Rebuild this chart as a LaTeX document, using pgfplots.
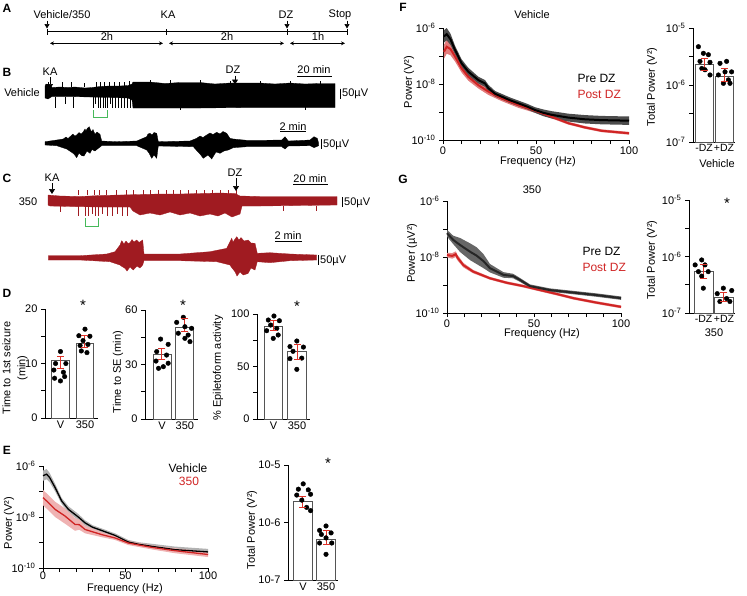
\documentclass[border=0pt]{standalone}
\usepackage{fontspec}
\setmainfont{Liberation Sans}
\usepackage{pgfplots}
\usepackage{pgfplotstable}
\pgfplotsset{compat=1.18}
\usetikzlibrary{arrows.meta}
\definecolor{eegred}{RGB}{160,27,33}
\definecolor{psdred}{RGB}{208,36,36}
\definecolor{errred}{RGB}{222,50,40}
\definecolor{bargray}{RGB}{85,85,85}
\definecolor{grn}{RGB}{70,185,90}
\newcommand\fs{\fontsize{11}{13}\selectfont}
\newcommand\fl{\fontsize{12}{14}\selectfont}
\pgfplotsset{
  gp/.style={scale only axis, axis lines*=left, clip=false, anchor=south west,
    axis line style={line width=0.9pt},
    tick style={black, line width=0.9pt},
    tick align=outside, major tick length=4pt, minor tick length=4pt,
    tick label style={font=\fs},
    /pgf/number format/assume math mode=true},
  barax/.style={gp, xtick={1,2}, xtick style={draw=none}, xticklabel style={yshift=5pt}},
  psd/.style={gp, xmin=0, xmax=100, ymin=-10, ymax=-6, xtick={0,50,100},
    minor xtick={10,20,30,40,60,70,80,90}, ytick={-10,-9,-8,-7,-6},
    xticklabel style={yshift=1pt},
    yticklabels={10\textsuperscript{-10},,10\textsuperscript{-8},,10\textsuperscript{-6}}},
  bars/.style={ybar, fill=white, draw=bargray, line width=0.9pt},
  dots/.style={only marks, mark=*, mark size=2.3pt, black},
  err/.style={errred, line width=1pt, mark=-, mark size=3.5pt, mark options={line width=1pt}},
}
% PSD mean curves: frequency (Hz), log10 power
\pgfplotstableread{
f m
0.5 -6.30
2 -6.22
4 -6.40
6.5 -6.79
10 -7.26
13.6 -7.56
19 -7.86
22.6 -7.98
24.4 -8.15
28 -8.35
31.5 -8.45
36 -8.58
40.5 -8.69
45 -8.80
49.5 -8.93
54 -9.03
58.4 -9.10
67.4 -9.20
76.3 -9.26
85.3 -9.29
100 -9.31
}\FPre
\pgfplotstableread{
f m
0.5 -6.85
2 -6.67
4 -6.75
6.5 -7.02
10 -7.44
13.6 -7.74
19 -8.04
24.4 -8.27
31.5 -8.51
40.5 -8.75
49.5 -8.95
58.4 -9.17
67.4 -9.40
76.3 -9.55
85.3 -9.67
100 -9.76
}\FPost
\pgfplotstableread{
f m
0 -7.15
3.6 -7.39
7.5 -7.57
13.2 -7.81
17 -7.95
21 -8.15
24.7 -8.40
32.4 -8.64
38 -8.68
42 -8.82
47.7 -9.04
59 -9.18
72.6 -9.27
86 -9.36
100 -9.47
}\GPre
\pgfplotstableread{
f m
0 -7.93
3 -7.96
5 -7.90
6 -8.02
9.4 -8.29
15 -8.52
24.7 -8.76
34.3 -8.92
43.9 -9.04
53.4 -9.18
63 -9.32
72.6 -9.47
86 -9.63
100 -9.78
}\GPost
\pgfplotstableread{
f m
0 -6.38
2.2 -6.32
4 -6.45
7.3 -6.84
11.3 -7.37
15.4 -7.70
21.4 -8.00
25.5 -8.23
30 -8.40
35.6 -8.53
43.6 -8.72
51.7 -8.98
58 -9.07
65.9 -9.15
80 -9.28
100 -9.37
}\EVeh
\pgfplotstableread{
f m
0 -7.24
3.2 -7.43
7.3 -7.70
13.3 -7.96
19.4 -8.29
22 -8.30
25.5 -8.49
35.6 -8.69
43.6 -8.82
51.7 -9.02
65.9 -9.19
80 -9.32
100 -9.47
}\ETre
\begin{document}
\begin{tikzpicture}[x=1pt, y=1pt, font=\fs]
\path[use as bounding box] (0pt,0pt) rectangle (747pt,-595pt);
% ---------------- EEG traces (canvas axis in pixel units) ----------------
\begin{axis}[at={(0pt,0pt)}, anchor=north west, scale only axis, width=747pt, height=595pt,
  xmin=0, xmax=747, ymin=0, ymax=595, y dir=reverse, hide axis, clip=false]
\addplot[fill=black, draw=black, line width=0.3pt] coordinates {
(45,86)(46,84)(50,85)(52,87.5)(60,87)(68,87.5)(75,87)(85,88)(92,87.5)(100,86.5)(110,86)(120,86)(128,85.5)(132,84)(133,82)(150,82)(165,83.5)(180,82.5)(200,82.5)(215,84)(230,83)(260,83)(275,84)(290,83)(305,84)(320,83.5)(335,83.5)
(335,107.5)(300,107.5)(250,107.5)(200,108)(150,108)(133,108)(132,100)(128,98)(110,97.5)(90,97)(70,96.5)(52,96.5)(48,99)(45,98)(45,86)};
\addplot[draw=none, mark=none, error bars/.cd, y dir=both, y explicit, error mark=none,
  error bar style={draw=black, line width=0.7pt}] coordinates {
(55,102.5)+-(0,5.5) (65,100.5)+-(0,3.5) (73,102.5)+-(0,5.5) (93,102.5)+-(0,5.5) (95.5,100.5)+-(0,3.5)
(98,102.5)+-(0,5.5) (100.5,102.5)+-(0,5.5) (103,102.5)+-(0,5.5) (105,102.5)+-(0,5.5) (107.5,102.5)+-(0,5.5)
(110,100.5)+-(0,3.5) (112.5,102.5)+-(0,5.5) (115,102.5)+-(0,5.5) (118,102.5)+-(0,5.5) (121,102.5)+-(0,5.5)
(124,102.5)+-(0,5.5) (127,102.5)+-(0,5.5) (130,102.5)+-(0,5.5) (180,108)+-(0,2) (305,108)+-(0,2)
(48,84.5)+-(0,2.5) (62,84.5)+-(0,2.5) (71,84.5)+-(0,2.5) (84,85)+-(0,2) (96,84.5)+-(0,2.5) (100,84)+-(0,2.5)
(104,84.5)+-(0,2.5) (109,84)+-(0,2.5) (114,84)+-(0,2.5) (119,84)+-(0,2.5) (124,84)+-(0,2.5) (129,83.5)+-(0,2.5)
(150,81.5)+-(0,1.5) (170,81.5)+-(0,1.5) (200,81.5)+-(0,1.5) (230,82)+-(0,1.5) (260,82)+-(0,1.5) (290,82)+-(0,1.5) (320,82)+-(0,1.5)};
\addplot[fill=black, draw=black, line width=0.3pt] coordinates {
(45,141.7)(56.7,140)(63.3,139)(66,137)(68,138.5)(70,136.7)(73,134)(75,136)(76.7,135)(79,132.5)(81,134)(83.3,131.7)(85,129)(86,131)(87.3,128.3)(89.3,126.7)(90.5,130)(91.7,131.7)(93,129.5)(95,134.3)(97,132)(100,134.3)(101.7,141)(116.7,141.7)(136.7,141)(146.7,136.7)(148,134)(150,133.3)(152,135)(154,132.5)(156.7,133.3)(158.3,141.7)(190,141)(196.7,138.3)(200,136)(203,137.5)(206.7,135)(210,133)(213,134.5)(216.7,132.3)(220,134)(223,131.5)(226.7,133.3)(230,138.3)(233.3,139)(246.7,140.3)(263.3,140.3)(281.7,140)(285,136.7)(288.3,141)(310,140)(314,136.7)(317.3,138.3)(318.7,143.3)
(318.7,145.7)(314,147.7)(310,145.7)(288.3,146)(285,149)(281.7,146.7)(246.7,146.7)(233.3,147.7)(228.3,150)(224,151)(220,153.3)(216,152)(211.7,159)(208,155)(203.3,158.3)(200,154)(198.3,152.3)(193.3,146.7)(158.3,146)(156.7,158.3)(154,155)(151.7,158.3)(149,153)(146.7,150)(136.7,145.7)(101.7,145.7)(98.3,148.3)(95,151)(92,149.5)(90,153.3)(87,151)(84,156)(81.7,155.7)(79,153)(76.7,157.7)(74,154)(71.7,152.3)(69,150.5)(66.7,149)(56.7,145.7)(45,145)(45,141.7)};
\addplot[fill=eegred, draw=eegred, line width=0.3pt] coordinates {
(48,195)(60,196)(80,196.5)(100,195.5)(120,195)(140,194.5)(160,194)(180,194)(200,193.5)(220,193)(235,193.5)(240,196)(260,196.5)(300,196.5)(337,196.5)
(337,205)(300,205.5)(260,206)(242,206)(240,214)(232,217)(225,213)(218,216)(210,214)(200,216)(190,213)(180,215)(170,212)(160,215)(150,213)(140,215)(133,211)(130,207)(100,207)(70,206.5)(50,206)(48,205)(48,195)};
\addplot[draw=none, mark=none, error bars/.cd, y dir=both, y explicit, error mark=none,
  error bar style={draw=eegred, line width=0.7pt}] coordinates {
(60,209)+-(0,3) (78,211)+-(0,5) (85,211)+-(0,5) (88,211)+-(0,5) (92,210)+-(0,4) (95,211)+-(0,5) (98,211)+-(0,5)
(102,210)+-(0,4) (107,211)+-(0,5) (112,211)+-(0,5) (117,210)+-(0,4) (122,211)+-(0,5) (127,211)+-(0,5)
(283,208.5)+-(0,2.5) (316,208.5)+-(0,2.5)
(78,192.5)+-(0,2.5) (87,192.5)+-(0,2.5) (94,192.5)+-(0,2.5) (99,192.5)+-(0,2.5) (106,192.5)+-(0,2.5)
(116,192.5)+-(0,2.5) (126,192.5)+-(0,2.5) (133,192.5)+-(0,2.5) (143,192.5)+-(0,2.5) (150,192.5)+-(0,2.5)
(158,192.5)+-(0,2.5) (166,192.5)+-(0,2.5) (173,192.5)+-(0,2.5) (180,192.5)+-(0,2.5) (188,192.5)+-(0,2.5)
(196,192.5)+-(0,2.5) (204,192.5)+-(0,2.5) (212,192.5)+-(0,2.5) (220,192.5)+-(0,2.5) (228,192.5)+-(0,2.5) (236,192.5)+-(0,2.5)};
\addplot[fill=eegred, draw=eegred, line width=0.3pt] coordinates {
(48.3,255.7)(80,255.7)(106.7,254)(115,251.7)(120,245)(121.7,240.7)(124,244)(126,241)(128,243.5)(130,242.7)(132,239.5)(134,242)(136.7,240)(139,242.5)(142.7,240)(144,254)(180,254)(210,251.7)(226.7,248.3)(231.7,238.3)(233,242)(236.7,236.7)(239,240)(241,237.5)(244,241)(248.3,240)(251,243)(255,243.3)(257.3,253.3)(270,252.7)(290,254)(316.7,255)
(316.7,260)(290,260.7)(270,262.7)(257.3,261.7)(255,270)(251,268)(248,273.5)(243.3,275)(240,272)(237,276)(235,271.7)(232,268)(230,265)(216.7,261.7)(180,260.7)(144,260.7)(142.7,265)(140,268)(137,266)(133.3,270)(130,267)(127,271)(125,268.3)(122,266.5)(120,265)(110,261.7)(80,260)(48.3,260)(48.3,255.7)};
\addplot[grn, line width=0.9pt] coordinates {(93,110)(93,117)(107,117)(107,110)};
\addplot[grn, line width=0.9pt] coordinates {(85,218)(85,226)(98,226)(98,218)};
\end{axis}
% ---------------- Panel A timeline ----------------
\draw[line width=0.7pt] (47,-31.7) -- (347,-31.7);
\foreach \xx in {47,166,287,347} \draw[line width=0.7pt] (\xx,-29) -- (\xx,-34.5);
\foreach \xx in {47,287,347} \draw[line width=0.6pt, -{Triangle[length=4.5pt,width=5pt]}] (\xx,-20.5) -- (\xx,-28.5);
\draw[line width=0.6pt, {Stealth[length=4pt,width=4pt]}-{Stealth[length=4pt,width=4pt]}] (50,-43.3) -- (163,-43.3);
\draw[line width=0.6pt, {Stealth[length=4pt,width=4pt]}-{Stealth[length=4pt,width=4pt]}] (169,-43.3) -- (284,-43.3);
\draw[line width=0.6pt, {Stealth[length=4pt,width=4pt]}-{Stealth[length=4pt,width=4pt]}] (290,-43.3) -- (345,-43.3);
\node at (62,-15) {Vehicle/350};
\node at (168,-15) {KA};
\node at (286,-15) {DZ};
\node at (340,-15) {Stop};
\node at (107,-37) {2h};
\node at (227,-37) {2h};
\node at (318,-37) {1h};
% ---------------- Panel B / C annotations ----------------
\node at (50,-72) {KA};
\draw[line width=0.7pt, -{Triangle[length=5pt,width=6pt]}] (50,-77) -- (50,-89);
\node at (233,-70) {DZ};
\draw[line width=0.7pt, -{Triangle[length=5pt,width=6pt]}] (235,-75.5) -- (235,-84.5);
\node at (314,-70) {20 min};
\draw[line width=0.8pt] (297,-76) -- (332,-76);
\node at (22,-93) {Vehicle};
\draw[line width=0.8pt] (340,-88.5) -- (340,-98.5);
\node[anchor=west, inner sep=0pt] at (342,-94) {50µV};
\node at (293,-127) {2 min};
\draw[line width=0.8pt] (280,-131.5) -- (306,-131.5);
\draw[line width=0.8pt] (321,-139) -- (321,-149);
\node[anchor=west, inner sep=0pt] at (323,-144.5) {50µV};
\node at (52,-178) {KA};
\draw[line width=0.7pt, -{Triangle[length=5pt,width=6pt]}] (52,-183) -- (52,-194);
\node at (235,-173) {DZ};
\draw[line width=0.7pt, -{Triangle[length=5pt,width=6pt]}] (236,-178) -- (236,-191);
\node at (310,-179) {20 min};
\draw[line width=0.8pt] (293,-184.5) -- (328,-184.5);
\node at (28,-202) {350};
\draw[line width=0.8pt] (342,-197) -- (342,-207);
\node[anchor=west, inner sep=0pt] at (344,-202.5) {50µV};
\node at (288,-236) {2 min};
\draw[line width=0.8pt] (275,-241) -- (302,-241);
\draw[line width=0.8pt] (318,-255) -- (318,-265);
\node[anchor=west, inner sep=0pt] at (320,-260.5) {50µV};
% ---------------- Panel D ----------------
\begin{axis}[barax, at={(45pt,-418pt)}, width=53pt, height=109pt, xmin=0.37, xmax=2.53,
  ymin=0, ymax=20, ytick={0,10,20}, minor ytick={5,15}, xticklabels={V,350}]
\addplot[bars, bar width=17.5pt] coordinates {(1,10.6)(2,13.7)};
\addplot[dots] coordinates {(1.0,12.2)(0.80,10.0)(1.22,10.0)(0.73,8.8)(1.12,8.4)(0.76,7.3)(1.17,7.6)(1.0,6.8)};
\addplot[dots] coordinates {(2.0,16.3)(1.75,15.1)(2.2,15.0)(1.92,14.2)(1.8,13.3)(2.12,13.5)(1.85,12.3)(2.08,12.0)};
\addplot[err] coordinates {(1,9.1)(1,11.2)};
\addplot[err] coordinates {(2,13.0)(2,15.1)};
\end{axis}
\begin{axis}[barax, at={(145pt,-419pt)}, width=53pt, height=109pt, xmin=0.26, xmax=2.57,
  ymin=0, ymax=60, ytick={0,30,60}, minor ytick={15,45}, xticklabels={V,350}]
\addplot[bars, bar width=18pt] coordinates {(1,35.8)(2,50.5)};
\addplot[dots] coordinates {(0.94,44.0)(1.27,41.1)(0.77,37.1)(1.2,35.2)(0.74,31.9)(1.27,30.7)(1.06,28.8)(0.85,27.9)};
\addplot[dots] coordinates {(1.93,56.0)(1.64,53.2)(2.0,50.8)(2.29,49.9)(1.71,47.2)(2.14,46.2)(2.0,44.4)(2.22,42.6)};
\addplot[err] coordinates {(1,33.0)(1,38.9)};
\addplot[err] coordinates {(2,48.1)(2,55.4)};
\end{axis}
\begin{axis}[barax, at={(257pt,-419pt)}, width=53pt, height=105pt, xmin=0.30, xmax=2.55,
  ymin=0, ymax=100, ytick={0,50,100}, minor ytick={25,75}, xticklabels={V,350}]
\addplot[bars, bar width=18.5pt] coordinates {(1,87.9)(2,64.1)};
\addplot[dots] coordinates {(1.02,98.1)(0.78,94.3)(1.25,93.6)(0.88,89.5)(1.14,86.3)(0.71,84.1)(1.2,80.0)(0.99,76.8)};
\addplot[dots] coordinates {(1.99,74.3)(1.70,69.0)(2.27,68.5)(1.83,64.5)(2.2,58.0)(1.70,57.5)(1.99,47.3)};
\addplot[err] coordinates {(1,84.1)(1,93.6)};
\addplot[err] coordinates {(2,56.2)(2,70.5)};
\end{axis}
\node[rotate=90, align=center, font=\fontsize{11}{15}\selectfont] at (15,-368) {Time to 1st seizure\\(min)};
\node[rotate=90] at (118,-372) {Time to SE (min)};
\node[rotate=90] at (218,-368) {\% Epiletoform activity};
\node[font=\fontsize{15}{15}\selectfont] at (83,-305) {*};
\node[font=\fontsize{15}{15}\selectfont] at (183,-305) {*};
\node[font=\fontsize{15}{15}\selectfont] at (297,-306) {*};
% ---------------- Panel E ----------------
\begin{axis}[psd, at={(43pt,-568pt)}, width=165pt, height=102pt, xticklabel style={yshift=3pt}]
\addplot[fill=black!30, draw=none] coordinates {
(0,-6.18)(2.2,-6.12)(4,-6.27)(7.3,-6.69)(11.3,-7.25)(15.4,-7.58)(21.4,-7.88)(25.5,-8.13)(30,-8.32)(35.6,-8.45)(43.6,-8.64)(51.7,-8.90)(58,-8.99)(65.9,-9.05)(80,-9.16)(100,-9.25)
(100,-9.49)(80,-9.40)(65.9,-9.25)(58,-9.15)(51.7,-9.06)(43.6,-8.80)(35.6,-8.61)(30,-8.48)(25.5,-8.33)(21.4,-8.12)(15.4,-7.82)(11.3,-7.49)(7.3,-6.99)(4,-6.63)(2.2,-6.52)(0,-6.58)};
\addplot[fill=psdred!35, draw=none] coordinates {
(0,-6.94)(3.2,-7.13)(7.3,-7.40)(13.3,-7.66)(19.4,-8.04)(22,-8.10)(25.5,-8.34)(35.6,-8.59)(43.6,-8.74)(51.7,-8.94)(65.9,-9.11)(80,-9.22)(100,-9.37)
(100,-9.57)(80,-9.42)(65.9,-9.27)(51.7,-9.10)(43.6,-8.90)(35.6,-8.79)(25.5,-8.64)(22,-8.50)(19.4,-8.54)(13.3,-8.26)(7.3,-8.00)(3.2,-7.73)(0,-7.54)};
\addplot[black, line width=1.3pt] table[x=f,y=m]{\EVeh};
\addplot[psdred, line width=1.3pt] table[x=f,y=m]{\ETre};
\end{axis}
\node[rotate=90] at (9,-523) {Power (V²)};
\node at (125,-589) {Frequency (Hz)};
\node[font=\fl] at (188,-468) {Vehicle};
\node[font=\fl, text=psdred] at (189,-481) {350};
\begin{axis}[barax, ymode=log, log origin y=infty, at={(288pt,-580pt)}, width=50pt, height=115pt,
  xmin=0.35, xmax=2.52, ymin=1e-7, ymax=1e-5, ytick={1e-7,1e-6,1e-5},
  yticklabels={10-7,10-6,10-5}, yminorticks=false, xticklabels={V,350}]
\addplot[bars, bar width=19pt] coordinates {(1,2.34e-6)(2,5.1e-7)};
\addplot[dots] coordinates {(1.01,4.7e-6)(0.80,3.8e-6)(1.23,3.7e-6)(0.73,3.0e-6)(1.33,3.1e-6)(0.95,2.45e-6)(1.16,1.83e-6)(1.33,1.61e-6)};
\addplot[dots] coordinates {(2.0,8.7e-7)(1.72,7.3e-7)(2.22,6.6e-7)(1.8,6.2e-7)(2.0,5.4e-7)(1.72,4.4e-7)(2.25,4.4e-7)(2.0,2.8e-7)};
\addplot[err] coordinates {(1,1.8e-6)(1,2.8e-6)};
\addplot[err] coordinates {(2,4.1e-7)(2,7.4e-7)};
\end{axis}
\node[rotate=90] at (252,-530) {Total Power (V²)};
\node[font=\fontsize{15}{15}\selectfont] at (328,-463) {*};
% ---------------- Panel F ----------------
\begin{axis}[psd, at={(443pt,-140pt)}, width=186pt, height=112pt]
\addplot[fill=psdred!60, draw=none] coordinates {
(0.5,-6.60)(2,-6.42)(4,-6.53)(6.5,-6.84)(10,-7.29)(13.6,-7.60)(19,-7.92)(24.4,-8.15)(31.5,-8.41)(40.5,-8.65)(49.5,-8.87)(58.4,-9.11)(67.4,-9.35)(76.3,-9.50)(85.3,-9.62)(100,-9.71)
(100,-9.81)(85.3,-9.72)(76.3,-9.60)(67.4,-9.45)(58.4,-9.23)(49.5,-9.03)(40.5,-8.85)(31.5,-8.61)(24.4,-8.39)(19,-8.16)(13.6,-7.88)(10,-7.59)(6.5,-7.20)(4,-6.97)(2,-6.92)(0.5,-7.10)};
\addplot[fill=black!70, draw=none] coordinates {
(0.5,-6.08)(2,-6.00)(4,-6.20)(6.5,-6.64)(10,-7.12)(13.6,-7.42)(19,-7.74)(22.6,-7.86)(24.4,-8.03)(28,-8.25)(31.5,-8.35)(36,-8.48)(40.5,-8.59)(45,-8.70)(49.5,-8.83)(54,-8.91)(58.4,-8.97)(67.4,-9.06)(76.3,-9.11)(85.3,-9.14)(100,-9.16)
(100,-9.46)(85.3,-9.44)(76.3,-9.41)(67.4,-9.34)(58.4,-9.23)(54,-9.15)(49.5,-9.03)(45,-8.90)(40.5,-8.79)(36,-8.68)(31.5,-8.55)(28,-8.45)(24.4,-8.27)(22.6,-8.10)(19,-7.98)(13.6,-7.70)(10,-7.40)(6.5,-6.94)(4,-6.60)(2,-6.44)(0.5,-6.52)};
\addplot[psdred, line width=2pt] table[x=f,y=m]{\FPost};
\addplot[black, line width=2pt] table[x=f,y=m]{\FPre};
\end{axis}
\node at (532,-15) {Vehicle};
\node[rotate=90] at (409,-82) {Power (V²)};
\node at (538,-162) {Frequency (Hz)};
\node[font=\fl, anchor=west] at (574,-78) {Pre DZ};
\node[font=\fl, anchor=west, text=psdred] at (574,-94) {Post DZ};
\begin{axis}[barax, ymode=log, log origin y=infty, at={(693pt,-142pt)}, width=42pt, height=114pt,
  xmin=0.45, xmax=2.55, ymin=1e-7, ymax=1e-5, ytick={1e-7,1e-6,1e-5},
  yticklabels={10\textsuperscript{-7},10\textsuperscript{-6},10\textsuperscript{-5}},
  minor ytick={3.162e-7,3.162e-6}, xticklabels={-DZ,+DZ},
  xticklabel style={font=\fontsize{10.5}{12}\selectfont}]
\addplot[bars, bar width=18pt] coordinates {(1,2.3e-6)(2,1.41e-6)};
\addplot[dots] coordinates {(0.72,4.7e-6)(0.97,3.6e-6)(1.22,3.4e-6)(0.8,2.6e-6)(1.3,2.5e-6)(0.89,1.95e-6)(1.05,1.85e-6)(1.3,1.5e-6)};
\addplot[dots] coordinates {(2.13,2.6e-6)(1.8,2.4e-6)(2.05,1.7e-6)(2.38,1.7e-6)(1.72,1.5e-6)(2.22,1.23e-6)(1.97,1.07e-6)(2.3,1.07e-6)};
\addplot[err] coordinates {(1,1.83e-6)(1,2.94e-6)};
\addplot[err] coordinates {(2,1.14e-6)(2,1.96e-6)};
\end{axis}
\node[rotate=90] at (652,-87) {Total Power (V²)};
\node at (717,-164) {Vehicle};
% ---------------- Panel G ----------------
\begin{axis}[psd, at={(447pt,-313pt)}, width=174pt, height=112pt]
\addplot[fill=psdred!55, draw=none] coordinates {
(0,-7.85)(3,-7.86)(5,-7.80)(6,-7.92)(9.4,-8.21)(15,-8.46)(24.7,-8.71)(34.3,-8.87)(43.9,-8.99)(53.4,-9.13)(63,-9.27)(72.6,-9.42)(86,-9.58)(100,-9.73)
(100,-9.83)(86,-9.68)(72.6,-9.52)(63,-9.37)(53.4,-9.23)(43.9,-9.09)(34.3,-8.97)(24.7,-8.81)(15,-8.58)(9.4,-8.37)(6,-8.12)(5,-8.00)(3,-8.06)(0,-8.01)};
\addplot[fill=black!60, draw=none] coordinates {
(0,-7.03)(3.6,-7.24)(7.5,-7.32)(13.2,-7.51)(17,-7.65)(21,-7.90)(24.7,-8.25)(32.4,-8.54)(38,-8.60)(42,-8.75)(47.7,-8.98)(59,-9.12)(72.6,-9.21)(86,-9.30)(100,-9.41)
(100,-9.53)(86,-9.42)(72.6,-9.33)(59,-9.24)(47.7,-9.10)(42,-8.89)(38,-8.76)(32.4,-8.74)(24.7,-8.55)(21,-8.40)(17,-8.25)(13.2,-8.11)(7.5,-7.82)(3.6,-7.54)(0,-7.27)};
\addplot[psdred, line width=2pt] table[x=f,y=m]{\GPost};
\addplot[black!85, line width=2pt] table[x=f,y=m]{\GPre};
\end{axis}
\node at (532,-190) {350};
\node[rotate=90] at (412,-253) {Power (µV²)};
\node at (542,-334) {Frequency (Hz)};
\node[font=\fl, anchor=west] at (579,-251) {Pre DZ};
\node[font=\fl, anchor=west, text=psdred] at (579,-267) {Post DZ};
\begin{axis}[barax, ymode=log, log origin y=infty, at={(689pt,-313pt)}, width=46pt, height=113pt,
  xmin=0.29, xmax=2.54, ymin=1e-7, ymax=1e-5, ytick={1e-7,1e-6,1e-5},
  yticklabels={10\textsuperscript{-7},10\textsuperscript{-6},10\textsuperscript{-5}},
  minor ytick={3.162e-7,3.162e-6}, xticklabels={-DZ,+DZ},
  xticklabel style={font=\fontsize{10.5}{12}\selectfont}]
\addplot[bars, bar width=19pt] coordinates {(1,5.4e-7)(2,1.86e-7)};
\addplot[dots] coordinates {(0.91,8.7e-7)(0.59,7.1e-7)(1.07,7.1e-7)(0.75,5.4e-7)(1.23,5.4e-7)(0.91,4.5e-7)(0.99,2.75e-7)};
\addplot[dots] coordinates {(1.97,2.75e-7)(2.38,2.5e-7)(1.67,2.2e-7)(2.13,1.8e-7)(1.8,1.6e-7)(2.29,1.6e-7)};
\addplot[err] coordinates {(1,4.1e-7)(1,7.3e-7)};
\addplot[err] coordinates {(2,1.6e-7)(2,2.3e-7)};
\end{axis}
\node[rotate=90] at (652,-260) {Total Power (V²)};
\node at (714,-333) {350};
\node[font=\fontsize{15}{15}\selectfont] at (727,-203) {*};
% ---------------- panel letters ----------------
\begin{scope}[font=\bfseries\fontsize{12}{14}\selectfont]
\node at (7,-8) {A};
\node at (7,-72) {B};
\node at (7,-178) {C};
\node at (7,-293) {D};
\node at (7,-450) {E};
\node at (403,-7) {F};
\node at (403,-179) {G};
\end{scope}
\end{tikzpicture}
\end{document}
